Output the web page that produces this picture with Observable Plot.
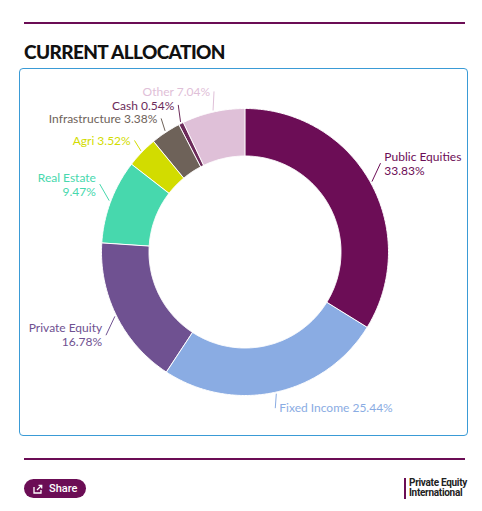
<!DOCTYPE html>
<html>
<head>
<meta charset="utf-8">
<script src="https://cdn.jsdelivr.net/npm/d3@7"></script>
<script src="https://cdn.jsdelivr.net/npm/@observablehq/plot@0.6"></script>
<style>
  html, body { margin: 0; padding: 0; background: #fff; }
  body { width: 482px; height: 511px; position: relative; font-family: Lato, "Open Sans", sans-serif; overflow: hidden; }
  .rule { position: absolute; left: 24px; width: 441px; height: 2px; background: #6b0d55; }
  .title { position: absolute; left: 24px; top: 40px; font-family: Lato, sans-serif; font-weight: 900; font-size: 19px; color: #111; letter-spacing: -0.6px; }
  .box { position: absolute; left: 19px; top: 68px; width: 447px; height: 366px; border: 1px solid #3a9bd6; border-radius: 4px; }
  #chart { position: absolute; left: 0; top: 0; }
  .share { position: absolute; left: 24px; top: 479px; width: 62px; height: 19px; border-radius: 10px; background: #6b0d55; color: #fff; font-family: Roboto, sans-serif; font-size: 11px; font-weight: 500; display: flex; align-items: center; }
  .share svg { margin-left: 9px; margin-right: 6px; }
  .logo { position: absolute; left: 404px; top: 478px; height: 21px; border-left: 2px solid #6b0d55; padding-left: 3px; font-family: Roboto, sans-serif; font-weight: 700; font-size: 10px; line-height: 9.5px; color: #222; letter-spacing: -0.3px; }
</style>
</head>
<body>
<div class="rule" style="top:22px"></div>
<div class="title">CURRENT ALLOCATION</div>
<div class="box"><div id="chart"></div></div>
<div class="rule" style="top:458px"></div>
<div class="share"><svg width="10" height="10" viewBox="0 0 10 10"><path d="M1 3 V9 H8 V6" fill="none" stroke="#fff" stroke-width="1.3"/><path d="M4 6 L8.5 1.5 M5.5 1.3 H8.7 V4.5" fill="none" stroke="#fff" stroke-width="1.3"/></svg>Share</div>
<div class="logo">Private Equity<br>International</div>
<script>
const names = ["Public Equities", "Fixed Income", "Private Equity", "Real Estate", "Agri", "Infrastructure", "Cash", "Other"];
const values = [33.83, 25.44, 16.78, 9.47, 3.52, 3.38, 0.54, 7.04];
const colors = ["#6c0d56", "#8aace3", "#6f5191", "#47d8ad", "#d2dc00", "#6e6259", "#6c2b5a", "#dfc0d8"];

const W = 447, H = 366;
const cx = 224.5, cy = 182.5;   // center within svg (px)
const R = 143.5, r0 = 96;
const LH = 13.5;                // label spacing used for anti-overlap (px)

const arcs = d3.pie().sort(null).value(d => d)(values);

// slice polygons
const slicePts = [];
arcs.forEach((a, i) => {
  const n = Math.max(4, Math.ceil((a.endAngle - a.startAngle) / 0.01));
  for (let k = 0; k <= n; k++) {
    const t = a.startAngle + (a.endAngle - a.startAngle) * k / n;
    slicePts.push({name: names[i], x: R * Math.sin(t), y: R * Math.cos(t)});
  }
  for (let k = n; k >= 0; k--) {
    const t = a.startAngle + (a.endAngle - a.startAngle) * k / n;
    slicePts.push({name: names[i], x: r0 * Math.sin(t), y: r0 * Math.cos(t)});
  }
});

// labels
const labels = arcs.map((a, i) => {
  const m = (a.startAngle + a.endAngle) / 2;
  const d = R + 16;
  const x = d * Math.sin(m), y = d * Math.cos(m);
  const wrap = Math.abs(x) > 130;
  const lines = wrap ? 2 : 1;
  // multi-line labels sit away from the anchor (above in the upper half, below in the lower half)
  const shift = (lines - 1) * (y > 0 ? 10.9 : -11.9);
  return {
    name: names[i], m, lines,
    x, y: y + shift,
    right: x > 0,
    text: wrap ? `${names[i]}\n${values[i].toFixed(2)}%` : `${names[i]} ${values[i].toFixed(2)}%`
  };
});

// simple anti-overlap on each side: push labels upward, starting from the bottom
[true, false].forEach(side => {
  const s = labels.filter(l => l.right === side).sort((a, b) => a.y - b.y);
  for (let k = 1; k < s.length; k++) {
    const lo = s[k - 1], hi = s[k];
    const minGap = (lo.lines + hi.lines) * LH / 2;
    if (hi.y - lo.y < minGap) hi.y = lo.y + minGap;
  }
});

const connectors = [];
labels.forEach(l => {
  const e = R + 2;
  connectors.push({name: l.name, x: e * Math.sin(l.m), y: e * Math.cos(l.m)});
  connectors.push({name: l.name, x: l.x + (l.right ? -4 : 4), y: l.y});
});

const plot = Plot.plot({
  width: W, height: H,
  margin: 0,
  x: {domain: [-cx, W - cx], range: [0, W], axis: null},
  y: {domain: [-(H - cy), cy], range: [H, 0], axis: null},
  color: {domain: names, range: colors},
  style: {fontFamily: "Lato, sans-serif", fontSize: "12px", background: "transparent"},
  marks: [
    Plot.line(slicePts, {x: "x", y: "y", z: "name", fill: "name", stroke: "white", strokeWidth: 1, curve: "linear-closed"}),
    Plot.line(connectors, {x: "x", y: "y", z: "name", stroke: "name", strokeWidth: 1}),
    Plot.text(labels.filter(d => d.right), {x: "x", y: "y", text: "text", fill: "name", textAnchor: "start", lineHeight: 1.15, fontSize: 12}),
    Plot.text(labels.filter(d => !d.right), {x: "x", y: "y", text: "text", fill: "name", textAnchor: "end", lineHeight: 1.15, fontSize: 12})
  ]
});
document.getElementById("chart").appendChild(plot);
</script>
</body>
</html>
